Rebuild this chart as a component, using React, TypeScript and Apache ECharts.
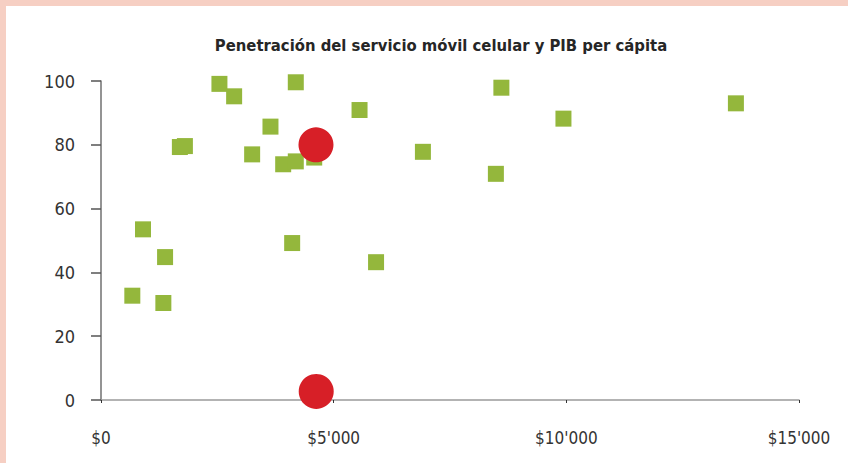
import React, { useEffect, useRef } from "react";
import * as echarts from "echarts";

const titleText = "Penetración del servicio móvil celular y PIB per cápita";

// PIB per cápita (US$) for each country
const pibValues = [
  2545, 2861, 4186, 8604, 5556, 9938, 13644, 3642, 1695, 1803, 3248,
  3915, 4186, 4582, 6918, 8486, 903, 1377, 4108, 5911, 673, 1340,
];
// Penetración del servicio móvil celular (%)
const penetracionValues = [
  99.1, 95.2, 99.6, 97.9, 90.9, 88.2, 93.0, 85.7, 79.3, 79.6, 77.0,
  73.9, 74.8, 76.0, 77.8, 70.9, 53.5, 44.8, 49.2, 43.2, 32.7, 30.4,
];

// Highlighted points (red circles)
const highlightPib = [4620, 4625];
const highlightPen = [80.0, 2.7];

const xTicks = [0, 5000, 10000, 15000];
const xTickLabels = ["$0", "$5'000", "$10'000", "$15'000"];
const yTicks = [0, 20, 40, 60, 80, 100];

const FONT = "'Liberation Sans Narrow', 'Arial Narrow', 'DejaVu Sans Condensed', 'Roboto Condensed', sans-serif";

export default function App() {
  const ref = useRef<HTMLDivElement>(null);

  useEffect(() => {
    if (!ref.current) return;
    const chart = echarts.init(ref.current, undefined, { renderer: "svg" });
    const greenData = pibValues.map((x, i) => [x, penetracionValues[i]]);
    const redData = highlightPib.map((x, i) => [x, highlightPen[i]]);
    chart.setOption({
      animation: false,
      backgroundColor: "#ffffff",
      graphic: [
        { type: "rect", left: 0, top: 0, shape: { width: 848, height: 6 }, style: { fill: "#f6cfc3" } },
        { type: "rect", left: 0, top: 0, shape: { width: 6, height: 463 }, style: { fill: "#f6cfc3" } },
      ],
      title: {
        text: titleText,
        left: 436,
        textAlign: "center",
        top: 32,
        textStyle: { fontFamily: FONT, fontSize: 16.5, fontWeight: "bold", color: "#262626" },
      },
      grid: { left: 101, right: 49, top: 81, bottom: 63, containLabel: false },
      xAxis: {
        type: "value",
        min: xTicks[0],
        max: xTicks[xTicks.length - 1],
        interval: 5000,
        axisLine: { show: true, lineStyle: { color: "#9a9a9a", width: 1.5 } },
        axisTick: { show: true, length: 3, inside: false, lineStyle: { color: "#333", width: 1 } },
        splitLine: { show: false },
        axisLabel: {
          margin: 29,
          fontFamily: FONT,
          fontSize: 17,
          color: "#333",
          formatter: (v: number) => {
            const idx = xTicks.indexOf(v);
            return idx >= 0 ? xTickLabels[idx] : "";
          },
        },
      },
      yAxis: {
        type: "value",
        min: yTicks[0],
        max: yTicks[yTicks.length - 1],
        interval: 20,
        axisLine: { show: true, lineStyle: { color: "#707070", width: 1.5 } },
        axisTick: { show: true, length: 10, inside: false, lineStyle: { color: "#555", width: 1.5 } },
        splitLine: { show: false },
        axisLabel: { margin: 26, fontFamily: FONT, fontSize: 18, color: "#333" },
      },
      series: [
        {
          type: "scatter",
          data: greenData,
          symbol: "rect",
          symbolSize: 16,
          itemStyle: { color: "#94b73c", opacity: 1 },
          z: 2,
        },
        {
          type: "scatter",
          data: redData,
          symbol: "circle",
          symbolSize: 35,
          itemStyle: { color: "#d71f27", opacity: 1 },
          z: 3,
        },
      ],
    });
    return () => chart.dispose();
  }, []);

  return (
    <div
      ref={ref}
      style={{ position: "fixed", left: 0, top: 0, width: 848, height: 463 }}
    />
  );
}
